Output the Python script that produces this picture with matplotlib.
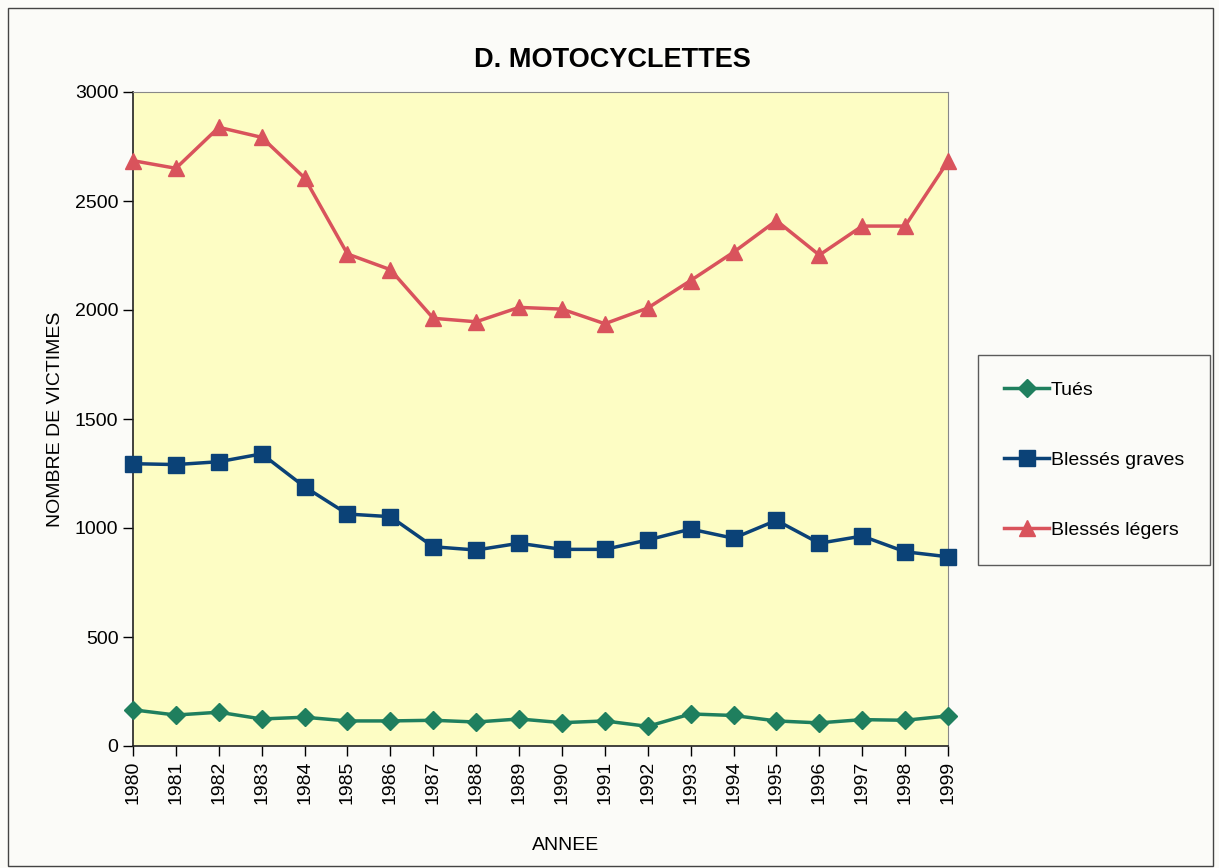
import matplotlib
import matplotlib.pyplot as plt

matplotlib.use("Agg")

# values
years = list(range(1980, 2000))
tues = [166, 142, 155, 124, 132, 115, 115, 118, 110, 124,
        107, 115, 90, 147, 140, 115, 106, 121, 118, 138]
blesses_graves = [1295, 1291, 1304, 1340, 1189, 1064, 1052, 914, 899, 930,
                  902, 902, 945, 995, 953, 1035, 930, 963, 891, 868]
blesses_legers = [2685, 2650, 2838, 2792, 2606, 2257, 2185, 1962, 1946, 2012,
                  2004, 1937, 2009, 2135, 2265, 2410, 2252, 2385, 2385, 2682]

plt.rcParams["font.family"] = ["Liberation Sans", "DejaVu Sans"]

fig = plt.figure(figsize=(12.19, 8.68), dpi=100, facecolor="#fbfbf8")
ax = fig.add_axes([133 / 1219, 1 - 746 / 868, (948 - 133) / 1219, (746 - 92) / 868])
ax.set_facecolor("#fdfdc4")

ax.plot(years, tues, color="#1f7f5e", lw=2.5, marker="D", ms=9,
        label="Tués", clip_on=False, zorder=3)
ax.plot(years, blesses_graves, color="#0b4277", lw=2.5, marker="s", ms=12,
        label="Blessés graves", clip_on=False, zorder=3)
ax.plot(years, blesses_legers, color="#d9535c", lw=2.5, marker="^", ms=12,
        label="Blessés légers", clip_on=False, zorder=3)

ax.set_xlim(1980, 1999)
ax.set_ylim(0, 3000)
ax.set_xticks(years)
ax.set_xticklabels([str(y) for y in years], rotation=90)
ax.set_yticks(range(0, 3001, 500))
ax.tick_params(axis="both", labelsize=14, direction="out", length=7, width=1)

for side in ["top", "right"]:
    ax.spines[side].set_color("#888888")
for side in ["left", "bottom"]:
    ax.spines[side].set_color("#222222")
    ax.spines[side].set_linewidth(1.2)

fig.text(0.502, 1 - 60 / 868, "D. MOTOCYCLETTES", fontsize=19.5,
         fontweight="bold", ha="center", va="center")
fig.text(566 / 1219, 1 - 845 / 868, "ANNEE", fontsize=14,
         ha="center", va="center")
ax.set_ylabel("NOMBRE DE VICTIMES", fontsize=14, labelpad=8)

leg = fig.legend(loc="upper left", bbox_to_anchor=(978 / 1219, 1 - 355 / 868),
                 fontsize=14, frameon=True, fancybox=False, edgecolor="#333333",
                 facecolor="#fbfbf8", labelspacing=2.7, borderpad=1.35,
                 handlelength=2.3, handletextpad=0.1, borderaxespad=0)
leg.get_frame().set_linewidth(1.0)

# thin border round the sheet
fig.patches.append(plt.Rectangle((8 / 1219, 0.002), 1 - 14 / 1219, 1 - 10 / 868,
                                 transform=fig.transFigure, fill=False,
                                 edgecolor="#444444", lw=1))

plt.savefig("out.png", dpi=100, facecolor=fig.get_facecolor())
